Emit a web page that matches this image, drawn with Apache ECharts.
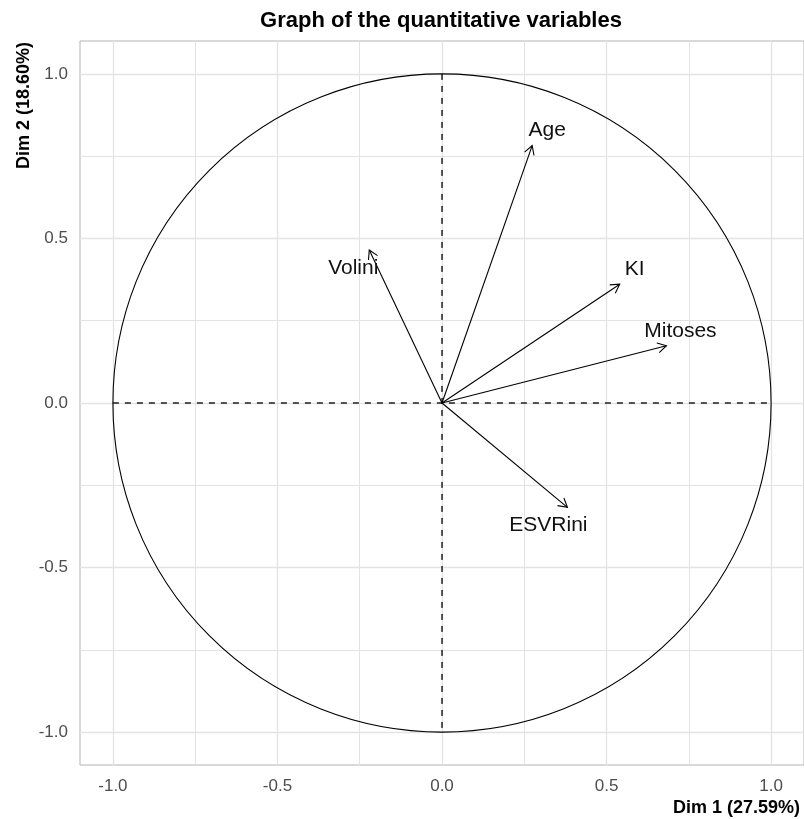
<!DOCTYPE html>
<html>
<head>
<meta charset="utf-8">
<script src="https://cdn.jsdelivr.net/npm/echarts@6/dist/echarts.min.js"></script>
<style>
  html, body { margin: 0; padding: 0; background: #ffffff; }
  #chart { width: 804px; height: 819px; }
</style>
</head>
<body>
<div id="chart"></div>
<script>
// ---- data ----
const variables = ['Age', 'Volini', 'KI', 'Mitoses', 'ESVRini'];
const dim1 = [0.274, -0.221, 0.540, 0.682, 0.381];
const dim2 = [0.782, 0.465, 0.361, 0.174, -0.317];
const tickValues = [-1.0, -0.5, 0.0, 0.5, 1.0];
const minorGridValues = [-0.75, -0.25, 0.25, 0.75];
const titleText = 'Graph of the quantitative variables';
const xAxisTitle = 'Dim 1 (27.59%)';
const yAxisTitle = 'Dim 2 (18.60%)';

// ---- style (label pixel offsets from arrow tips) ----
const labelOffsets = [[15, -15], [-16, 18], [15, -15], [14, -15], [-19, 18]];

const FONT = "'Liberation Sans', Arial, sans-serif";

const arrowData = variables.map((v, i) => [dim1[i], dim2[i], v, labelOffsets[i][0], labelOffsets[i][1]]);

const gridLineData = [];
tickValues.forEach(v => { gridLineData.push({ xAxis: v, lineStyle: { width: 1.3 } }); gridLineData.push({ yAxis: v, lineStyle: { width: 1.3 } }); });
minorGridValues.forEach(v => { gridLineData.push({ xAxis: v, lineStyle: { width: 1 } }); gridLineData.push({ yAxis: v, lineStyle: { width: 1 } }); });

const chart = echarts.init(document.getElementById('chart'));

const option = {
  animation: false,
  backgroundColor: '#ffffff',
  grid: {
    left: 80, top: 41, width: 724, height: 724,
    show: true, borderColor: '#b3b3b3', borderWidth: 1, backgroundColor: 'transparent',
    containLabel: false
  },
  graphic: [
    { type: 'text', x: 441, y: 21, z: 10,
      style: { text: titleText, font: "bold 22px " + FONT, fill: '#000', align: 'center', verticalAlign: 'middle' } },
    { type: 'text', x: 800, y: 808, z: 10,
      style: { text: xAxisTitle, font: "bold 18px " + FONT, fill: '#000', align: 'right', verticalAlign: 'middle' } },
    { type: 'text', x: 24, y: 42, rotation: Math.PI / 2, z: 10,
      style: { text: yAxisTitle, font: "bold 18px " + FONT, fill: '#000', align: 'right', verticalAlign: 'middle' } }
  ],
  xAxis: {
    type: 'value', min: -1.1, max: 1.1,
    axisLine: { show: false },
    splitLine: { show: false },
    axisTick: { show: true, length: 5, customValues: tickValues, lineStyle: { color: '#b3b3b3', width: 1 } },
    axisLabel: { show: true, customValues: tickValues, margin: 13, color: '#4d4d4d', fontSize: 17, fontFamily: FONT,
      formatter: v => v.toFixed(1) }
  },
  yAxis: {
    type: 'value', min: -1.1, max: 1.1,
    axisLine: { show: false },
    splitLine: { show: false },
    axisTick: { show: true, length: 5, customValues: tickValues, lineStyle: { color: '#b3b3b3', width: 1 } },
    axisLabel: { show: true, customValues: tickValues, margin: 12, color: '#4d4d4d', fontSize: 17, fontFamily: FONT,
      formatter: v => v.toFixed(1) }
  },
  series: [
    {
      type: 'line', data: [], silent: true, z: 1,
      markLine: {
        z: 1, zlevel: 0,
        silent: true, symbol: ['none', 'none'], label: { show: false },
        lineStyle: { color: '#e3e3e3', type: 'solid', width: 1 },
        emphasis: { disabled: true },
        data: gridLineData
      }
    },
    {
      type: 'custom', silent: true, z: 20,
      data: [[0, 0, 1]],
      renderItem: function (params, api) {
        const c = api.coord([api.value(0), api.value(1)]);
        const r = api.size([api.value(2), api.value(2)]);
        const left = api.coord([-api.value(2), 0]);
        const right = api.coord([api.value(2), 0]);
        const top = api.coord([0, api.value(2)]);
        const bottom = api.coord([0, -api.value(2)]);
        return {
          type: 'group',
          children: [
            { type: 'circle', shape: { cx: c[0], cy: c[1], r: (r[0] + r[1]) / 2 },
              style: { fill: 'none', stroke: '#000', lineWidth: 1.1 } },
            { type: 'line', shape: { x1: left[0], y1: left[1], x2: right[0], y2: right[1] },
              style: { stroke: '#000', lineWidth: 1.3, lineDash: [6, 6] } },
            { type: 'line', shape: { x1: top[0], y1: top[1], x2: bottom[0], y2: bottom[1] },
              style: { stroke: '#000', lineWidth: 1.3, lineDash: [6, 6] } }
          ]
        };
      }
    },
    {
      type: 'custom', silent: true, z: 21,
      data: arrowData,
      dimensions: ['dim1', 'dim2', 'name', 'dx', 'dy'],
      renderItem: function (params, api) {
        const o = api.coord([0, 0]);
        const t = api.coord([api.value(0), api.value(1)]);
        const name = variables[params.dataIndex];
        const off = labelOffsets[params.dataIndex];
        const ang = Math.atan2(t[1] - o[1], t[0] - o[0]);
        const L = 10, a = Math.PI / 6;
        const h1 = [t[0] - L * Math.cos(ang - a), t[1] - L * Math.sin(ang - a)];
        const h2 = [t[0] - L * Math.cos(ang + a), t[1] - L * Math.sin(ang + a)];
        return {
          type: 'group',
          children: [
            { type: 'line', shape: { x1: o[0], y1: o[1], x2: t[0], y2: t[1] },
              style: { stroke: '#000', lineWidth: 1.1 } },
            { type: 'polyline', shape: { points: [h1, t, h2] },
              style: { stroke: '#000', lineWidth: 1.1, fill: 'none' } },
            { type: 'text', x: t[0] + off[0], y: t[1] + off[1],
              style: { text: name, font: '21px ' + FONT, fill: '#111', align: 'center', verticalAlign: 'middle' } }
          ]
        };
      }
    }
  ]
};

chart.setOption(option);
</script>
</body>
</html>
